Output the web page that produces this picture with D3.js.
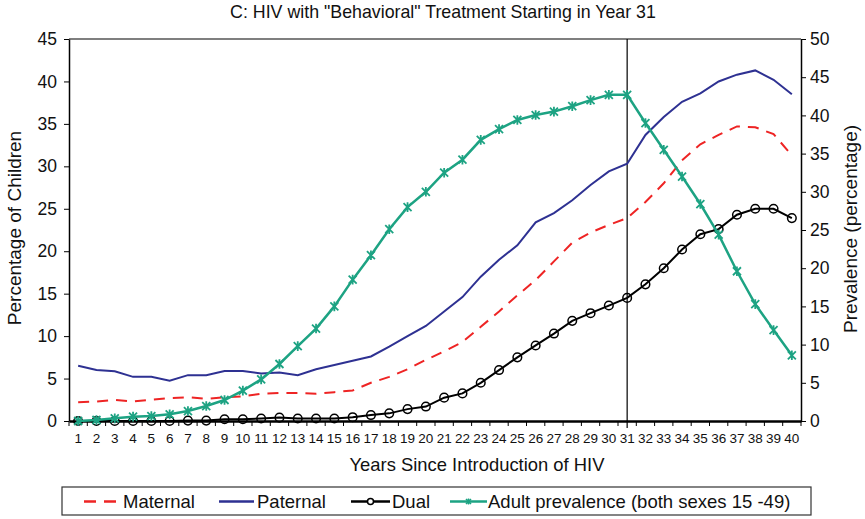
<!DOCTYPE html>
<html>
<head>
<meta charset="utf-8">
<script src="https://cdn.jsdelivr.net/npm/d3@7"></script>
<style>
  body { margin: 0; background: #fff; }
  svg { font-family: "Liberation Sans", Arial, sans-serif; fill: #111; }
</style>
</head>
<body>
<svg id="chart" width="865" height="519"></svg>
<script>
// data
const years = d3.range(1, 41);
const maternal = [2.2, 2.3, 2.5, 2.3, 2.5, 2.7, 2.8, 2.6, 2.8, 2.9, 3.2, 3.3, 3.3, 3.2, 3.4, 3.6, 4.5, 5.2, 6.1, 7.2, 8.2, 9.3, 11.1, 12.9, 14.8, 16.6, 18.8, 21.0, 22.2, 23.1, 23.9, 25.8, 28.0, 30.7, 32.6, 33.7, 34.7, 34.6, 33.8, 31.3];
const paternal = [6.5, 6.0, 5.85, 5.2, 5.2, 4.75, 5.4, 5.4, 5.9, 5.9, 5.6, 5.7, 5.4, 6.1, 6.6, 7.1, 7.6, 8.75, 10.0, 11.2, 12.9, 14.6, 17.0, 19.0, 20.7, 23.4, 24.5, 26.0, 27.8, 29.4, 30.3, 33.7, 35.8, 37.6, 38.6, 40.0, 40.8, 41.3, 40.2, 38.5];
const dual = [0, 0, 0, 0, 0, 0, 0.05, 0.05, 0.2, 0.2, 0.3, 0.4, 0.3, 0.3, 0.3, 0.45, 0.7, 0.9, 1.4, 1.7, 2.75, 3.25, 4.5, 6.0, 7.5, 8.9, 10.3, 11.8, 12.7, 13.6, 14.5, 16.1, 18.0, 20.2, 22.0, 22.6, 24.3, 25.0, 25.0, 23.9];
const adultPrev = [0, 0.13, 0.35, 0.57, 0.65, 0.87, 1.3, 1.96, 2.75, 3.97, 5.45, 7.46, 9.8, 12.1, 15.0, 18.5, 21.7, 25.1, 28.0, 30.0, 32.5, 34.2, 36.8, 38.2, 39.4, 40.05, 40.5, 41.2, 42.0, 42.7, 42.7, 39.0, 35.5, 32.0, 28.4, 24.4, 19.6, 15.3, 11.9, 8.6];
const leftTicks = d3.range(0, 46, 5);
const rightTicks = d3.range(0, 51, 5);
const treatmentYear = 31;

const colors = { maternal: "#ee2424", paternal: "#2e3192", dual: "#000000", adult: "#1da383" };

const svg = d3.select("#chart");
const plotLeft = 69, plotRight = 801, plotTop = 39, plotBottom = 421;

const x = d3.scaleBand().domain(years).range([plotLeft, plotRight]);
const cx = d => x(d) + x.bandwidth() / 2;
const yL = d3.scaleLinear().domain([0, 45]).range([plotBottom, plotTop]);
const yR = d3.scaleLinear().domain([0, 50]).range([plotBottom, plotTop]);

// title
svg.append("text")
  .attr("x", 443).attr("y", 18)
  .attr("text-anchor", "middle")
  .style("font-size", "17.8px")
  .text('C: HIV with "Behavioral" Treatment Starting in Year 31');

// top border
svg.append("line")
  .attr("x1", plotLeft).attr("x2", plotRight)
  .attr("y1", plotTop).attr("y2", plotTop)
  .attr("stroke", "#000").attr("stroke-width", 1.2);

// left axis
const gL = svg.append("g")
  .attr("transform", `translate(${plotLeft},0)`)
  .call(d3.axisLeft(yL).tickValues(leftTicks).tickSize(5).tickSizeOuter(0));
gL.select(".domain").attr("stroke-width", 1.5);
gL.selectAll("text").style("font-size", "17.5px").attr("x", -12).attr("fill", "#111");

// right axis
const gR = svg.append("g")
  .attr("transform", `translate(${plotRight},0)`)
  .call(d3.axisRight(yR).tickValues(rightTicks).tickSize(5).tickSizeOuter(0));
gR.select(".domain").attr("stroke-width", 1.5);
gR.selectAll("text").style("font-size", "17.5px").attr("x", 9).attr("fill", "#111");

// bottom axis: labels centered, tick marks between categories
const gB = svg.append("g")
  .attr("transform", `translate(0,${plotBottom})`)
  .call(d3.axisBottom(x).tickSize(0).tickPadding(12));
gB.select(".domain").attr("stroke-width", 2.5);
gB.selectAll("text").style("font-size", "13.5px").attr("fill", "#111");
gB.selectAll(".sep")
  .data(years.concat([41]))
  .join("line")
  .attr("class", "sep")
  .attr("x1", d => d === 41 ? plotRight : x(d))
  .attr("x2", d => d === 41 ? plotRight : x(d))
  .attr("y1", 0).attr("y2", 5)
  .attr("stroke", "#000");

// axis titles
svg.append("text")
  .attr("x", 477).attr("y", 471)
  .attr("text-anchor", "middle")
  .style("font-size", "18.4px")
  .text("Years Since Introduction of HIV");

svg.append("text")
  .attr("transform", "translate(21,228) rotate(-90)")
  .attr("text-anchor", "middle")
  .style("font-size", "19px")
  .text("Percentage of Children");

svg.append("text")
  .attr("transform", "translate(857,229) rotate(-90)")
  .attr("text-anchor", "middle")
  .style("font-size", "19px")
  .text("Prevalence (percentage)");

// treatment start line
svg.append("line")
  .attr("x1", cx(treatmentYear)).attr("x2", cx(treatmentYear))
  .attr("y1", plotTop).attr("y2", plotBottom + 7)
  .attr("stroke", "#000").attr("stroke-width", 1.2);

const starPath = s => `M${-s},${-s}L${s},${s}M${-s},${s}L${s},${-s}M0,${-s * 1.2}L0,${s * 1.2}`;

const lineL = d3.line().x((d, i) => cx(years[i])).y(d => yL(d));
const lineR = d3.line().x((d, i) => cx(years[i])).y(d => yR(d));

// maternal
svg.append("path")
  .attr("d", lineL(maternal))
  .attr("fill", "none")
  .attr("stroke", colors.maternal)
  .attr("stroke-width", 2)
  .attr("stroke-dasharray", "11,8");

// paternal
svg.append("path")
  .attr("d", lineL(paternal))
  .attr("fill", "none")
  .attr("stroke", colors.paternal)
  .attr("stroke-width", 2);

// dual
svg.append("path")
  .attr("d", lineL(dual))
  .attr("fill", "none")
  .attr("stroke", colors.dual)
  .attr("stroke-width", 2);
svg.selectAll(".dualpt")
  .data(dual)
  .join("circle")
  .attr("class", "dualpt")
  .attr("cx", (d, i) => cx(years[i]))
  .attr("cy", d => yL(d))
  .attr("r", 4.3)
  .attr("fill", "none")
  .attr("stroke", colors.dual)
  .attr("stroke-width", 1.5);

// adult prevalence
svg.append("path")
  .attr("d", lineR(adultPrev))
  .attr("fill", "none")
  .attr("stroke", colors.adult)
  .attr("stroke-width", 2.5);
svg.selectAll(".adultpt")
  .data(adultPrev)
  .join("path")
  .attr("class", "adultpt")
  .attr("transform", (d, i) => `translate(${cx(years[i])},${yR(d)})`)
  .attr("d", starPath(4))
  .attr("stroke", colors.adult)
  .attr("stroke-width", 1.8);

// legend
const leg = svg.append("g");
leg.append("rect")
  .attr("x", 62).attr("y", 487)
  .attr("width", 749).attr("height", 28)
  .attr("fill", "#fff").attr("stroke", "#333").attr("stroke-width", 1.2);

const legendItems = [
  { name: "Maternal", color: colors.maternal, x1: 84, x2: 121, tx: 123, dash: "12,8", mark: null },
  { name: "Paternal", color: colors.paternal, x1: 219, x2: 254, tx: 257, dash: null, mark: null },
  { name: "Dual", color: colors.dual, x1: 351, x2: 390, tx: 392, dash: null, mark: "circle" },
  { name: "Adult prevalence (both sexes 15 -49)", color: colors.adult, x1: 450, x2: 487, tx: 488, dash: null, mark: "star" }
];
const ly = 501.5;
legendItems.forEach(it => {
  leg.append("line")
    .attr("x1", it.x1).attr("x2", it.x2)
    .attr("y1", ly).attr("y2", ly)
    .attr("stroke", it.color).attr("stroke-width", 2.5)
    .attr("stroke-dasharray", it.dash);
  const mid = (it.x1 + it.x2) / 2;
  if (it.mark === "circle") {
    leg.append("circle").attr("cx", mid).attr("cy", ly).attr("r", 3)
      .attr("fill", "#fff").attr("stroke", it.color).attr("stroke-width", 1.5);
  }
  if (it.mark === "star") {
    leg.append("path").attr("transform", `translate(${mid},${ly})`)
      .attr("d", starPath(2.5)).attr("stroke", it.color).attr("stroke-width", 1.5);
  }
  leg.append("text")
    .attr("x", it.tx).attr("y", 508)
    .style("font-size", "18.5px")
    .text(it.name);
});
</script>
</body>
</html>
